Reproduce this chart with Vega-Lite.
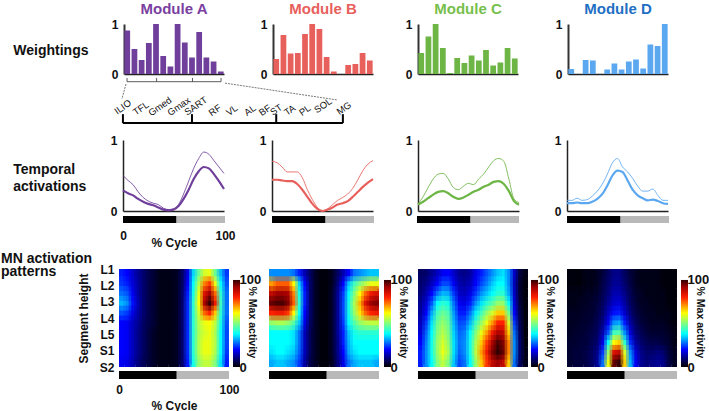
{"$schema":"https://vega.github.io/schema/vega-lite/v6.json","padding":{"left":0,"top":2,"right":0,"bottom":0},"background":"white","bounds":"flush","spacing":0,
"config":{"view":{"stroke":null},"font":"Liberation Sans","concat":{"spacing":0},"axis":{"grid":false,"ticks":false,"labelFontWeight":"bold","labelFontSize":12,"labelColor":"#111","titleFontWeight":"bold","titleColor":"#111","labelBound":false,"labelOverlap":false,"labelFlush":false}},
"datasets":{"e":[{}],"cb":[{"lo":0,"hi":100}],
"seg":[{"g":"L1"},{"g":"L2"},{"g":"L3"},{"g":"L4"},{"g":"L5"},{"g":"S1"},{"g":"S2"}],
"mus":[{"n":"ILIO","x":0.03,"y":0.36},{"n":"TFL","x":1.09,"y":0.33},{"n":"Gmed","x":2.2,"y":0.37},{"n":"Gmax","x":3.31,"y":0.37},{"n":"SART","x":4.3,"y":0.38},{"n":"RF","x":5.42,"y":0.29},{"n":"VL","x":6.41,"y":0.29},{"n":"AL","x":7.47,"y":0.29},{"n":"BF","x":8.35,"y":0.29},{"n":"ST","x":9.0,"y":0.3},{"n":"TA","x":9.8,"y":0.29},{"n":"PL","x":10.68,"y":0.29},{"n":"SOL","x":11.74,"y":0.39},{"n":"MG","x":12.97,"y":0.33}],
"br":[{"g":"main","x":0.03,"x2":12.9,"y":0.02,"y2":0.02},{"g":"main","x":0.03,"x2":0.03,"y":0.02,"y2":0.21},{"g":"main","x":4.07,"x2":4.07,"y":0.02,"y2":0.21},{"g":"main","x":9.0,"x2":9.0,"y":0.02,"y2":0.21},{"g":"main","x":12.9,"x2":12.9,"y":0.02,"y2":0.21},
{"g":"small","x":0.27,"x2":5.77,"y":0.9,"y2":0.9},{"g":"small","x":0.27,"x2":0.27,"y":0.9,"y2":0.98},{"g":"small","x":2.0,"x2":2.0,"y":0.9,"y2":0.98},{"g":"small","x":4.1,"x2":4.1,"y":0.9,"y2":0.98},{"g":"small","x":5.77,"x2":5.77,"y":0.9,"y2":0.98},
{"g":"link","x":0.21,"x2":-0.03,"y":0.85,"y2":0.53},{"g":"link","x":6.0,"x2":12.6,"y":0.87,"y2":0.51}],
"bars":[{"m":"A","i":1,"v":0.87},{"m":"A","i":2,"v":0.5},{"m":"A","i":3,"v":0.28},{"m":"A","i":4,"v":0.62},{"m":"A","i":5,"v":1},{"m":"A","i":6,"v":0.36},{"m":"A","i":7,"v":0.15},{"m":"A","i":8,"v":1},{"m":"A","i":9,"v":0.63},{"m":"A","i":10,"v":0.33},{"m":"A","i":11,"v":0.84},{"m":"A","i":12,"v":0.33},{"m":"A","i":13,"v":0.25},{"m":"A","i":14,"v":0.05},
{"m":"B","i":1,"v":0.3},{"m":"B","i":2,"v":0.78},{"m":"B","i":3,"v":0.41},{"m":"B","i":4,"v":0.42},{"m":"B","i":5,"v":0.8},{"m":"B","i":6,"v":1},{"m":"B","i":7,"v":0.9},{"m":"B","i":8,"v":0.34},{"m":"B","i":9,"v":0.05},{"m":"B","i":10,"v":0},{"m":"B","i":11,"v":0.18},{"m":"B","i":12,"v":0.2},{"m":"B","i":13,"v":0.42},{"m":"B","i":14,"v":0.27},
{"m":"C","i":1,"v":0.42},{"m":"C","i":2,"v":0.75},{"m":"C","i":3,"v":1},{"m":"C","i":4,"v":0.52},{"m":"C","i":5,"v":0.02},{"m":"C","i":6,"v":0.32},{"m":"C","i":7,"v":0.22},{"m":"C","i":8,"v":0.37},{"m":"C","i":9,"v":0.27},{"m":"C","i":10,"v":0.48},{"m":"C","i":11,"v":0.17},{"m":"C","i":12,"v":0.23},{"m":"C","i":13,"v":0.52},{"m":"C","i":14,"v":0.31},
{"m":"D","i":1,"v":0.1},{"m":"D","i":2,"v":0},{"m":"D","i":3,"v":0.28},{"m":"D","i":4,"v":0.27},{"m":"D","i":5,"v":0},{"m":"D","i":6,"v":0.09},{"m":"D","i":7,"v":0.21},{"m":"D","i":8,"v":0.09},{"m":"D","i":9,"v":0.25},{"m":"D","i":10,"v":0.29},{"m":"D","i":11,"v":0.11},{"m":"D","i":12,"v":0.59},{"m":"D","i":13,"v":0.56},{"m":"D","i":14,"v":1}],
"phase":[{"a":0,"b":52.5,"p":"stance"},{"a":52.5,"b":100,"p":"swing"}],
"act":[{"m":"A","c":0,"k":0.29,"n":0.5},{"m":"A","c":5,"k":0.25,"n":0.43},{"m":"A","c":10,"k":0.22,"n":0.37},{"m":"A","c":15,"k":0.17,"n":0.27},{"m":"A","c":20,"k":0.13,"n":0.19},{"m":"A","c":25,"k":0.1,"n":0.14},{"m":"A","c":30,"k":0.08,"n":0.11},{"m":"A","c":35,"k":0.05,"n":0.09},{"m":"A","c":40,"k":0.02,"n":0.04},{"m":"A","c":45,"k":0.01,"n":0.02},{"m":"A","c":50,"k":0.02,"n":0.03},{"m":"A","c":55,"k":0.07,"n":0.09},{"m":"A","c":60,"k":0.17,"n":0.24},{"m":"A","c":65,"k":0.3,"n":0.42},{"m":"A","c":70,"k":0.45,"n":0.6},{"m":"A","c":75,"k":0.56,"n":0.74},{"m":"A","c":80,"k":0.62,"n":0.83},{"m":"A","c":85,"k":0.6,"n":0.8},{"m":"A","c":90,"k":0.52,"n":0.71},{"m":"A","c":95,"k":0.42,"n":0.62},{"m":"A","c":100,"k":0.31,"n":0.53},
{"m":"B","c":0,"k":0.44,"n":0.7},{"m":"B","c":5,"k":0.44,"n":0.68},{"m":"B","c":10,"k":0.43,"n":0.62},{"m":"B","c":15,"k":0.42,"n":0.55},{"m":"B","c":20,"k":0.42,"n":0.55},{"m":"B","c":25,"k":0.38,"n":0.55},{"m":"B","c":30,"k":0.3,"n":0.47},{"m":"B","c":35,"k":0.2,"n":0.3},{"m":"B","c":40,"k":0.1,"n":0.16},{"m":"B","c":45,"k":0.03,"n":0.05},{"m":"B","c":50,"k":0,"n":0},{"m":"B","c":55,"k":0.02,"n":0.03},{"m":"B","c":60,"k":0.05,"n":0.09},{"m":"B","c":65,"k":0.09,"n":0.15},{"m":"B","c":70,"k":0.11,"n":0.19},{"m":"B","c":75,"k":0.14,"n":0.24},{"m":"B","c":80,"k":0.2,"n":0.32},{"m":"B","c":85,"k":0.27,"n":0.44},{"m":"B","c":90,"k":0.34,"n":0.57},{"m":"B","c":95,"k":0.4,"n":0.66},{"m":"B","c":100,"k":0.45,"n":0.71},
{"m":"C","c":0,"k":0.09,"n":0.1},{"m":"C","c":5,"k":0.13,"n":0.2},{"m":"C","c":10,"k":0.18,"n":0.33},{"m":"C","c":15,"k":0.23,"n":0.45},{"m":"C","c":20,"k":0.27,"n":0.52},{"m":"C","c":25,"k":0.28,"n":0.53},{"m":"C","c":30,"k":0.25,"n":0.45},{"m":"C","c":35,"k":0.2,"n":0.33},{"m":"C","c":40,"k":0.17,"n":0.3},{"m":"C","c":45,"k":0.19,"n":0.35},{"m":"C","c":50,"k":0.23,"n":0.39},{"m":"C","c":55,"k":0.27,"n":0.37},{"m":"C","c":60,"k":0.3,"n":0.45},{"m":"C","c":65,"k":0.34,"n":0.52},{"m":"C","c":70,"k":0.37,"n":0.62},{"m":"C","c":75,"k":0.41,"n":0.71},{"m":"C","c":80,"k":0.42,"n":0.74},{"m":"C","c":85,"k":0.38,"n":0.7},{"m":"C","c":90,"k":0.28,"n":0.45},{"m":"C","c":95,"k":0.14,"n":0.17},{"m":"C","c":100,"k":0.09,"n":0.12},
{"m":"D","c":0,"k":0.11,"n":0.15},{"m":"D","c":5,"k":0.11,"n":0.15},{"m":"D","c":10,"k":0.12,"n":0.18},{"m":"D","c":15,"k":0.11,"n":0.15},{"m":"D","c":20,"k":0.11,"n":0.16},{"m":"D","c":25,"k":0.13,"n":0.21},{"m":"D","c":30,"k":0.17,"n":0.28},{"m":"D","c":35,"k":0.24,"n":0.38},{"m":"D","c":40,"k":0.36,"n":0.52},{"m":"D","c":45,"k":0.5,"n":0.68},{"m":"D","c":50,"k":0.57,"n":0.74},{"m":"D","c":55,"k":0.55,"n":0.62},{"m":"D","c":60,"k":0.43,"n":0.55},{"m":"D","c":65,"k":0.3,"n":0.46},{"m":"D","c":70,"k":0.22,"n":0.35},{"m":"D","c":75,"k":0.18,"n":0.28},{"m":"D","c":80,"k":0.15,"n":0.28},{"m":"D","c":85,"k":0.16,"n":0.31},{"m":"D","c":90,"k":0.14,"n":0.22},{"m":"D","c":95,"k":0.11,"n":0.15},{"m":"D","c":100,"k":0.1,"n":0.15}],
"ha":[{"t":0,"s":0,"v":22},{"t":1,"s":0,"v":20},{"t":2,"s":0,"v":16},{"t":3,"s":0,"v":12},{"t":4,"s":0,"v":9},{"t":5,"s":0,"v":6},{"t":6,"s":0,"v":4},{"t":7,"s":0,"v":2},{"t":8,"s":0,"v":2},{"t":9,"s":0,"v":2},{"t":10,"s":0,"v":3},{"t":11,"s":0,"v":8},{"t":12,"s":0,"v":18},{"t":13,"s":0,"v":35},{"t":14,"s":0,"v":48},{"t":15,"s":0,"v":58},{"t":16,"s":0,"v":60},{"t":17,"s":0,"v":48},{"t":18,"s":0,"v":33},{"t":19,"s":0,"v":24},
{"t":0,"s":1,"v":24},{"t":1,"s":1,"v":22},{"t":2,"s":1,"v":17},{"t":3,"s":1,"v":13},{"t":4,"s":1,"v":9},{"t":5,"s":1,"v":6},{"t":6,"s":1,"v":4},{"t":7,"s":1,"v":2},{"t":8,"s":1,"v":2},{"t":9,"s":1,"v":2},{"t":10,"s":1,"v":3},{"t":11,"s":1,"v":8},{"t":12,"s":1,"v":20},{"t":13,"s":1,"v":38},{"t":14,"s":1,"v":55},{"t":15,"s":1,"v":72},{"t":16,"s":1,"v":78},{"t":17,"s":1,"v":60},{"t":18,"s":1,"v":38},{"t":19,"s":1,"v":26},
{"t":0,"s":2,"v":28},{"t":1,"s":2,"v":26},{"t":2,"s":2,"v":19},{"t":3,"s":2,"v":13},{"t":4,"s":2,"v":9},{"t":5,"s":2,"v":6},{"t":6,"s":2,"v":4},{"t":7,"s":2,"v":2},{"t":8,"s":2,"v":2},{"t":9,"s":2,"v":2},{"t":10,"s":2,"v":3},{"t":11,"s":2,"v":9},{"t":12,"s":2,"v":22},{"t":13,"s":2,"v":40},{"t":14,"s":2,"v":60},{"t":15,"s":2,"v":84},{"t":16,"s":2,"v":92},{"t":17,"s":2,"v":74},{"t":18,"s":2,"v":42},{"t":19,"s":2,"v":28},
{"t":0,"s":3,"v":33},{"t":1,"s":3,"v":30},{"t":2,"s":3,"v":21},{"t":3,"s":3,"v":14},{"t":4,"s":3,"v":9},{"t":5,"s":3,"v":6},{"t":6,"s":3,"v":4},{"t":7,"s":3,"v":2},{"t":8,"s":3,"v":2},{"t":9,"s":3,"v":2},{"t":10,"s":3,"v":3},{"t":11,"s":3,"v":9},{"t":12,"s":3,"v":23},{"t":13,"s":3,"v":42},{"t":14,"s":3,"v":62},{"t":15,"s":3,"v":90},{"t":16,"s":3,"v":100},{"t":17,"s":3,"v":82},{"t":18,"s":3,"v":44},{"t":19,"s":3,"v":28},
{"t":0,"s":4,"v":26},{"t":1,"s":4,"v":24},{"t":2,"s":4,"v":18},{"t":3,"s":4,"v":13},{"t":4,"s":4,"v":9},{"t":5,"s":4,"v":6},{"t":6,"s":4,"v":4},{"t":7,"s":4,"v":2},{"t":8,"s":4,"v":2},{"t":9,"s":4,"v":2},{"t":10,"s":4,"v":3},{"t":11,"s":4,"v":9},{"t":12,"s":4,"v":23},{"t":13,"s":4,"v":42},{"t":14,"s":4,"v":58},{"t":15,"s":4,"v":74},{"t":16,"s":4,"v":80},{"t":17,"s":4,"v":66},{"t":18,"s":4,"v":42},{"t":19,"s":4,"v":28},
{"t":0,"s":5,"v":20},{"t":1,"s":5,"v":19},{"t":2,"s":5,"v":15},{"t":3,"s":5,"v":12},{"t":4,"s":5,"v":8},{"t":5,"s":5,"v":6},{"t":6,"s":5,"v":4},{"t":7,"s":5,"v":2},{"t":8,"s":5,"v":2},{"t":9,"s":5,"v":2},{"t":10,"s":5,"v":3},{"t":11,"s":5,"v":9},{"t":12,"s":5,"v":23},{"t":13,"s":5,"v":42},{"t":14,"s":5,"v":55},{"t":15,"s":5,"v":60},{"t":16,"s":5,"v":62},{"t":17,"s":5,"v":56},{"t":18,"s":5,"v":40},{"t":19,"s":5,"v":26},
{"t":0,"s":6,"v":20},{"t":1,"s":6,"v":19},{"t":2,"s":6,"v":15},{"t":3,"s":6,"v":11},{"t":4,"s":6,"v":8},{"t":5,"s":6,"v":5},{"t":6,"s":6,"v":3},{"t":7,"s":6,"v":2},{"t":8,"s":6,"v":2},{"t":9,"s":6,"v":2},{"t":10,"s":6,"v":3},{"t":11,"s":6,"v":9},{"t":12,"s":6,"v":23},{"t":13,"s":6,"v":42},{"t":14,"s":6,"v":54},{"t":15,"s":6,"v":58},{"t":16,"s":6,"v":60},{"t":17,"s":6,"v":54},{"t":18,"s":6,"v":38},{"t":19,"s":6,"v":25},
{"t":0,"s":7,"v":20},{"t":1,"s":7,"v":19},{"t":2,"s":7,"v":15},{"t":3,"s":7,"v":11},{"t":4,"s":7,"v":8},{"t":5,"s":7,"v":5},{"t":6,"s":7,"v":3},{"t":7,"s":7,"v":2},{"t":8,"s":7,"v":2},{"t":9,"s":7,"v":2},{"t":10,"s":7,"v":3},{"t":11,"s":7,"v":9},{"t":12,"s":7,"v":23},{"t":13,"s":7,"v":42},{"t":14,"s":7,"v":55},{"t":15,"s":7,"v":60},{"t":16,"s":7,"v":60},{"t":17,"s":7,"v":55},{"t":18,"s":7,"v":38},{"t":19,"s":7,"v":25},
{"t":0,"s":8,"v":20},{"t":1,"s":8,"v":19},{"t":2,"s":8,"v":15},{"t":3,"s":8,"v":11},{"t":4,"s":8,"v":8},{"t":5,"s":8,"v":5},{"t":6,"s":8,"v":3},{"t":7,"s":8,"v":2},{"t":8,"s":8,"v":2},{"t":9,"s":8,"v":2},{"t":10,"s":8,"v":3},{"t":11,"s":8,"v":9},{"t":12,"s":8,"v":23},{"t":13,"s":8,"v":42},{"t":14,"s":8,"v":55},{"t":15,"s":8,"v":60},{"t":16,"s":8,"v":60},{"t":17,"s":8,"v":54},{"t":18,"s":8,"v":38},{"t":19,"s":8,"v":24},
{"t":0,"s":9,"v":19},{"t":1,"s":9,"v":18},{"t":2,"s":9,"v":14},{"t":3,"s":9,"v":10},{"t":4,"s":9,"v":7},{"t":5,"s":9,"v":5},{"t":6,"s":9,"v":3},{"t":7,"s":9,"v":2},{"t":8,"s":9,"v":2},{"t":9,"s":9,"v":2},{"t":10,"s":9,"v":3},{"t":11,"s":9,"v":9},{"t":12,"s":9,"v":22},{"t":13,"s":9,"v":40},{"t":14,"s":9,"v":52},{"t":15,"s":9,"v":56},{"t":16,"s":9,"v":56},{"t":17,"s":9,"v":50},{"t":18,"s":9,"v":36},{"t":19,"s":9,"v":22}],
"hb":[{"t":0,"s":0,"v":30},{"t":1,"s":0,"v":30},{"t":2,"s":0,"v":30},{"t":3,"s":0,"v":30},{"t":4,"s":0,"v":28},{"t":5,"s":0,"v":22},{"t":6,"s":0,"v":14},{"t":7,"s":0,"v":8},{"t":8,"s":0,"v":3},{"t":9,"s":0,"v":1},{"t":10,"s":0,"v":1},{"t":11,"s":0,"v":3},{"t":12,"s":0,"v":8},{"t":13,"s":0,"v":14},{"t":14,"s":0,"v":20},{"t":15,"s":0,"v":28},{"t":16,"s":0,"v":30},{"t":17,"s":0,"v":32},{"t":18,"s":0,"v":34},{"t":19,"s":0,"v":34},
{"t":0,"s":1,"v":70},{"t":1,"s":1,"v":75},{"t":2,"s":1,"v":75},{"t":3,"s":1,"v":75},{"t":4,"s":1,"v":62},{"t":5,"s":1,"v":35},{"t":6,"s":1,"v":20},{"t":7,"s":1,"v":9},{"t":8,"s":1,"v":3},{"t":9,"s":1,"v":1},{"t":10,"s":1,"v":1},{"t":11,"s":1,"v":3},{"t":12,"s":1,"v":10},{"t":13,"s":1,"v":20},{"t":14,"s":1,"v":34},{"t":15,"s":1,"v":44},{"t":16,"s":1,"v":50},{"t":17,"s":1,"v":55},{"t":18,"s":1,"v":60},{"t":19,"s":1,"v":60},
{"t":0,"s":2,"v":88},{"t":1,"s":2,"v":92},{"t":2,"s":2,"v":92},{"t":3,"s":2,"v":90},{"t":4,"s":2,"v":72},{"t":5,"s":2,"v":40},{"t":6,"s":2,"v":22},{"t":7,"s":2,"v":9},{"t":8,"s":2,"v":3},{"t":9,"s":2,"v":1},{"t":10,"s":2,"v":1},{"t":11,"s":2,"v":4},{"t":12,"s":2,"v":12},{"t":13,"s":2,"v":24},{"t":14,"s":2,"v":38},{"t":15,"s":2,"v":50},{"t":16,"s":2,"v":62},{"t":17,"s":2,"v":74},{"t":18,"s":2,"v":82},{"t":19,"s":2,"v":85},
{"t":0,"s":3,"v":96},{"t":1,"s":3,"v":98},{"t":2,"s":3,"v":98},{"t":3,"s":3,"v":94},{"t":4,"s":3,"v":75},{"t":5,"s":3,"v":42},{"t":6,"s":3,"v":22},{"t":7,"s":3,"v":9},{"t":8,"s":3,"v":3},{"t":9,"s":3,"v":1},{"t":10,"s":3,"v":1},{"t":11,"s":3,"v":4},{"t":12,"s":3,"v":12},{"t":13,"s":3,"v":25},{"t":14,"s":3,"v":40},{"t":15,"s":3,"v":54},{"t":16,"s":3,"v":68},{"t":17,"s":3,"v":84},{"t":18,"s":3,"v":92},{"t":19,"s":3,"v":94},
{"t":0,"s":4,"v":80},{"t":1,"s":4,"v":82},{"t":2,"s":4,"v":82},{"t":3,"s":4,"v":78},{"t":4,"s":4,"v":62},{"t":5,"s":4,"v":38},{"t":6,"s":4,"v":20},{"t":7,"s":4,"v":9},{"t":8,"s":4,"v":3},{"t":9,"s":4,"v":1},{"t":10,"s":4,"v":1},{"t":11,"s":4,"v":4},{"t":12,"s":4,"v":12},{"t":13,"s":4,"v":25},{"t":14,"s":4,"v":40},{"t":15,"s":4,"v":52},{"t":16,"s":4,"v":64},{"t":17,"s":4,"v":74},{"t":18,"s":4,"v":80},{"t":19,"s":4,"v":82},
{"t":0,"s":5,"v":52},{"t":1,"s":5,"v":54},{"t":2,"s":5,"v":54},{"t":3,"s":5,"v":52},{"t":4,"s":5,"v":46},{"t":5,"s":5,"v":34},{"t":6,"s":5,"v":18},{"t":7,"s":5,"v":8},{"t":8,"s":5,"v":3},{"t":9,"s":5,"v":1},{"t":10,"s":5,"v":1},{"t":11,"s":5,"v":4},{"t":12,"s":5,"v":12},{"t":13,"s":5,"v":24},{"t":14,"s":5,"v":38},{"t":15,"s":5,"v":46},{"t":16,"s":5,"v":52},{"t":17,"s":5,"v":55},{"t":18,"s":5,"v":56},{"t":19,"s":5,"v":56},
{"t":0,"s":6,"v":38},{"t":1,"s":6,"v":38},{"t":2,"s":6,"v":38},{"t":3,"s":6,"v":38},{"t":4,"s":6,"v":36},{"t":5,"s":6,"v":28},{"t":6,"s":6,"v":15},{"t":7,"s":6,"v":7},{"t":8,"s":6,"v":3},{"t":9,"s":6,"v":1},{"t":10,"s":6,"v":1},{"t":11,"s":6,"v":4},{"t":12,"s":6,"v":12},{"t":13,"s":6,"v":22},{"t":14,"s":6,"v":34},{"t":15,"s":6,"v":40},{"t":16,"s":6,"v":42},{"t":17,"s":6,"v":42},{"t":18,"s":6,"v":42},{"t":19,"s":6,"v":42},
{"t":0,"s":7,"v":38},{"t":1,"s":7,"v":38},{"t":2,"s":7,"v":38},{"t":3,"s":7,"v":38},{"t":4,"s":7,"v":36},{"t":5,"s":7,"v":28},{"t":6,"s":7,"v":15},{"t":7,"s":7,"v":7},{"t":8,"s":7,"v":3},{"t":9,"s":7,"v":1},{"t":10,"s":7,"v":1},{"t":11,"s":7,"v":4},{"t":12,"s":7,"v":11},{"t":13,"s":7,"v":22},{"t":14,"s":7,"v":33},{"t":15,"s":7,"v":38},{"t":16,"s":7,"v":38},{"t":17,"s":7,"v":38},{"t":18,"s":7,"v":38},{"t":19,"s":7,"v":38},
{"t":0,"s":8,"v":36},{"t":1,"s":8,"v":38},{"t":2,"s":8,"v":38},{"t":3,"s":8,"v":36},{"t":4,"s":8,"v":34},{"t":5,"s":8,"v":27},{"t":6,"s":8,"v":15},{"t":7,"s":8,"v":7},{"t":8,"s":8,"v":3},{"t":9,"s":8,"v":1},{"t":10,"s":8,"v":1},{"t":11,"s":8,"v":4},{"t":12,"s":8,"v":11},{"t":13,"s":8,"v":20},{"t":14,"s":8,"v":32},{"t":15,"s":8,"v":36},{"t":16,"s":8,"v":38},{"t":17,"s":8,"v":38},{"t":18,"s":8,"v":38},{"t":19,"s":8,"v":38},
{"t":0,"s":9,"v":32},{"t":1,"s":9,"v":34},{"t":2,"s":9,"v":34},{"t":3,"s":9,"v":32},{"t":4,"s":9,"v":30},{"t":5,"s":9,"v":24},{"t":6,"s":9,"v":13},{"t":7,"s":9,"v":6},{"t":8,"s":9,"v":3},{"t":9,"s":9,"v":1},{"t":10,"s":9,"v":1},{"t":11,"s":9,"v":3},{"t":12,"s":9,"v":10},{"t":13,"s":9,"v":18},{"t":14,"s":9,"v":28},{"t":15,"s":9,"v":32},{"t":16,"s":9,"v":34},{"t":17,"s":9,"v":34},{"t":18,"s":9,"v":34},{"t":19,"s":9,"v":32}],
"hc":[{"t":0,"s":0,"v":8},{"t":1,"s":0,"v":9},{"t":2,"s":0,"v":12},{"t":3,"s":0,"v":15},{"t":4,"s":0,"v":19},{"t":5,"s":0,"v":20},{"t":6,"s":0,"v":16},{"t":7,"s":0,"v":12},{"t":8,"s":0,"v":11},{"t":9,"s":0,"v":13},{"t":10,"s":0,"v":18},{"t":11,"s":0,"v":22},{"t":12,"s":0,"v":26},{"t":13,"s":0,"v":30},{"t":14,"s":0,"v":34},{"t":15,"s":0,"v":36},{"t":16,"s":0,"v":30},{"t":17,"s":0,"v":16},{"t":18,"s":0,"v":5},{"t":19,"s":0,"v":2},
{"t":0,"s":1,"v":9},{"t":1,"s":1,"v":11},{"t":2,"s":1,"v":15},{"t":3,"s":1,"v":20},{"t":4,"s":1,"v":25},{"t":5,"s":1,"v":25},{"t":6,"s":1,"v":19},{"t":7,"s":1,"v":14},{"t":8,"s":1,"v":13},{"t":9,"s":1,"v":15},{"t":10,"s":1,"v":20},{"t":11,"s":1,"v":25},{"t":12,"s":1,"v":29},{"t":13,"s":1,"v":34},{"t":14,"s":1,"v":38},{"t":15,"s":1,"v":38},{"t":16,"s":1,"v":30},{"t":17,"s":1,"v":15},{"t":18,"s":1,"v":4},{"t":19,"s":1,"v":1},
{"t":0,"s":2,"v":10},{"t":1,"s":2,"v":14},{"t":2,"s":2,"v":20},{"t":3,"s":2,"v":28},{"t":4,"s":2,"v":33},{"t":5,"s":2,"v":32},{"t":6,"s":2,"v":24},{"t":7,"s":2,"v":16},{"t":8,"s":2,"v":15},{"t":9,"s":2,"v":18},{"t":10,"s":2,"v":24},{"t":11,"s":2,"v":30},{"t":12,"s":2,"v":34},{"t":13,"s":2,"v":38},{"t":14,"s":2,"v":42},{"t":15,"s":2,"v":42},{"t":16,"s":2,"v":32},{"t":17,"s":2,"v":16},{"t":18,"s":2,"v":4},{"t":19,"s":2,"v":1},
{"t":0,"s":3,"v":12},{"t":1,"s":3,"v":17},{"t":2,"s":3,"v":26},{"t":3,"s":3,"v":38},{"t":4,"s":3,"v":42},{"t":5,"s":3,"v":40},{"t":6,"s":3,"v":28},{"t":7,"s":3,"v":19},{"t":8,"s":3,"v":18},{"t":9,"s":3,"v":22},{"t":10,"s":3,"v":30},{"t":11,"s":3,"v":36},{"t":12,"s":3,"v":42},{"t":13,"s":3,"v":46},{"t":14,"s":3,"v":52},{"t":15,"s":3,"v":52},{"t":16,"s":3,"v":38},{"t":17,"s":3,"v":17},{"t":18,"s":3,"v":5},{"t":19,"s":3,"v":1},
{"t":0,"s":4,"v":13},{"t":1,"s":4,"v":20},{"t":2,"s":4,"v":32},{"t":3,"s":4,"v":44},{"t":4,"s":4,"v":48},{"t":5,"s":4,"v":45},{"t":6,"s":4,"v":31},{"t":7,"s":4,"v":22},{"t":8,"s":4,"v":22},{"t":9,"s":4,"v":28},{"t":10,"s":4,"v":37},{"t":11,"s":4,"v":44},{"t":12,"s":4,"v":52},{"t":13,"s":4,"v":58},{"t":14,"s":4,"v":66},{"t":15,"s":4,"v":66},{"t":16,"s":4,"v":48},{"t":17,"s":4,"v":20},{"t":18,"s":4,"v":6},{"t":19,"s":4,"v":1},
{"t":0,"s":5,"v":15},{"t":1,"s":5,"v":24},{"t":2,"s":5,"v":36},{"t":3,"s":5,"v":48},{"t":4,"s":5,"v":52},{"t":5,"s":5,"v":48},{"t":6,"s":5,"v":33},{"t":7,"s":5,"v":25},{"t":8,"s":5,"v":26},{"t":9,"s":5,"v":33},{"t":10,"s":5,"v":44},{"t":11,"s":5,"v":52},{"t":12,"s":5,"v":60},{"t":13,"s":5,"v":70},{"t":14,"s":5,"v":80},{"t":15,"s":5,"v":80},{"t":16,"s":5,"v":58},{"t":17,"s":5,"v":24},{"t":18,"s":5,"v":7},{"t":19,"s":5,"v":1},
{"t":0,"s":6,"v":17},{"t":1,"s":6,"v":27},{"t":2,"s":6,"v":38},{"t":3,"s":6,"v":50},{"t":4,"s":6,"v":55},{"t":5,"s":6,"v":50},{"t":6,"s":6,"v":35},{"t":7,"s":6,"v":27},{"t":8,"s":6,"v":29},{"t":9,"s":6,"v":38},{"t":10,"s":6,"v":50},{"t":11,"s":6,"v":60},{"t":12,"s":6,"v":70},{"t":13,"s":6,"v":82},{"t":14,"s":6,"v":90},{"t":15,"s":6,"v":88},{"t":16,"s":6,"v":66},{"t":17,"s":6,"v":28},{"t":18,"s":6,"v":8},{"t":19,"s":6,"v":1},
{"t":0,"s":7,"v":20},{"t":1,"s":7,"v":29},{"t":2,"s":7,"v":40},{"t":3,"s":7,"v":52},{"t":4,"s":7,"v":58},{"t":5,"s":7,"v":52},{"t":6,"s":7,"v":36},{"t":7,"s":7,"v":28},{"t":8,"s":7,"v":30},{"t":9,"s":7,"v":40},{"t":10,"s":7,"v":54},{"t":11,"s":7,"v":66},{"t":12,"s":7,"v":78},{"t":13,"s":7,"v":90},{"t":14,"s":7,"v":98},{"t":15,"s":7,"v":94},{"t":16,"s":7,"v":72},{"t":17,"s":7,"v":30},{"t":18,"s":7,"v":9},{"t":19,"s":7,"v":1},
{"t":0,"s":8,"v":22},{"t":1,"s":8,"v":30},{"t":2,"s":8,"v":40},{"t":3,"s":8,"v":52},{"t":4,"s":8,"v":60},{"t":5,"s":8,"v":54},{"t":6,"s":8,"v":36},{"t":7,"s":8,"v":27},{"t":8,"s":8,"v":30},{"t":9,"s":8,"v":40},{"t":10,"s":8,"v":56},{"t":11,"s":8,"v":70},{"t":12,"s":8,"v":82},{"t":13,"s":8,"v":94},{"t":14,"s":8,"v":100},{"t":15,"s":8,"v":96},{"t":16,"s":8,"v":72},{"t":17,"s":8,"v":30},{"t":18,"s":8,"v":9},{"t":19,"s":8,"v":2},
{"t":0,"s":9,"v":22},{"t":1,"s":9,"v":30},{"t":2,"s":9,"v":38},{"t":3,"s":9,"v":50},{"t":4,"s":9,"v":56},{"t":5,"s":9,"v":50},{"t":6,"s":9,"v":34},{"t":7,"s":9,"v":25},{"t":8,"s":9,"v":28},{"t":9,"s":9,"v":38},{"t":10,"s":9,"v":52},{"t":11,"s":9,"v":66},{"t":12,"s":9,"v":78},{"t":13,"s":9,"v":88},{"t":14,"s":9,"v":92},{"t":15,"s":9,"v":88},{"t":16,"s":9,"v":66},{"t":17,"s":9,"v":28},{"t":18,"s":9,"v":8},{"t":19,"s":9,"v":2}],
"hd":[{"t":0,"s":0,"v":1},{"t":1,"s":0,"v":1},{"t":2,"s":0,"v":1},{"t":3,"s":0,"v":2},{"t":4,"s":0,"v":2},{"t":5,"s":0,"v":3},{"t":6,"s":0,"v":5},{"t":7,"s":0,"v":8},{"t":8,"s":0,"v":11},{"t":9,"s":0,"v":11},{"t":10,"s":0,"v":8},{"t":11,"s":0,"v":5},{"t":12,"s":0,"v":3},{"t":13,"s":0,"v":2},{"t":14,"s":0,"v":2},{"t":15,"s":0,"v":2},{"t":16,"s":0,"v":2},{"t":17,"s":0,"v":1},{"t":18,"s":0,"v":1},{"t":19,"s":0,"v":1},
{"t":0,"s":1,"v":1},{"t":1,"s":1,"v":1},{"t":2,"s":1,"v":1},{"t":3,"s":1,"v":2},{"t":4,"s":1,"v":2},{"t":5,"s":1,"v":3},{"t":6,"s":1,"v":6},{"t":7,"s":1,"v":9},{"t":8,"s":1,"v":12},{"t":9,"s":1,"v":12},{"t":10,"s":1,"v":9},{"t":11,"s":1,"v":6},{"t":12,"s":1,"v":3},{"t":13,"s":1,"v":2},{"t":14,"s":1,"v":2},{"t":15,"s":1,"v":2},{"t":16,"s":1,"v":2},{"t":17,"s":1,"v":1},{"t":18,"s":1,"v":1},{"t":19,"s":1,"v":1},
{"t":0,"s":2,"v":2},{"t":1,"s":2,"v":2},{"t":2,"s":2,"v":2},{"t":3,"s":2,"v":3},{"t":4,"s":2,"v":3},{"t":5,"s":2,"v":4},{"t":6,"s":2,"v":7},{"t":7,"s":2,"v":10},{"t":8,"s":2,"v":14},{"t":9,"s":2,"v":14},{"t":10,"s":2,"v":11},{"t":11,"s":2,"v":7},{"t":12,"s":2,"v":4},{"t":13,"s":2,"v":3},{"t":14,"s":2,"v":2},{"t":15,"s":2,"v":2},{"t":16,"s":2,"v":2},{"t":17,"s":2,"v":2},{"t":18,"s":2,"v":1},{"t":19,"s":2,"v":1},
{"t":0,"s":3,"v":2},{"t":1,"s":3,"v":2},{"t":2,"s":3,"v":3},{"t":3,"s":3,"v":3},{"t":4,"s":3,"v":4},{"t":5,"s":3,"v":5},{"t":6,"s":3,"v":8},{"t":7,"s":3,"v":12},{"t":8,"s":3,"v":16},{"t":9,"s":3,"v":17},{"t":10,"s":3,"v":13},{"t":11,"s":3,"v":8},{"t":12,"s":3,"v":5},{"t":13,"s":3,"v":3},{"t":14,"s":3,"v":3},{"t":15,"s":3,"v":2},{"t":16,"s":3,"v":2},{"t":17,"s":3,"v":2},{"t":18,"s":3,"v":1},{"t":19,"s":3,"v":1},
{"t":0,"s":4,"v":3},{"t":1,"s":4,"v":3},{"t":2,"s":4,"v":3},{"t":3,"s":4,"v":4},{"t":4,"s":4,"v":4},{"t":5,"s":4,"v":6},{"t":6,"s":4,"v":9},{"t":7,"s":4,"v":15},{"t":8,"s":4,"v":21},{"t":9,"s":4,"v":22},{"t":10,"s":4,"v":16},{"t":11,"s":4,"v":10},{"t":12,"s":4,"v":6},{"t":13,"s":4,"v":4},{"t":14,"s":4,"v":3},{"t":15,"s":4,"v":3},{"t":16,"s":4,"v":2},{"t":17,"s":4,"v":2},{"t":18,"s":4,"v":2},{"t":19,"s":4,"v":1},
{"t":0,"s":5,"v":3},{"t":1,"s":5,"v":3},{"t":2,"s":5,"v":4},{"t":3,"s":5,"v":4},{"t":4,"s":5,"v":5},{"t":5,"s":5,"v":7},{"t":6,"s":5,"v":11},{"t":7,"s":5,"v":19},{"t":8,"s":5,"v":30},{"t":9,"s":5,"v":32},{"t":10,"s":5,"v":22},{"t":11,"s":5,"v":13},{"t":12,"s":5,"v":8},{"t":13,"s":5,"v":5},{"t":14,"s":5,"v":4},{"t":15,"s":5,"v":3},{"t":16,"s":5,"v":3},{"t":17,"s":5,"v":3},{"t":18,"s":5,"v":2},{"t":19,"s":5,"v":1},
{"t":0,"s":6,"v":3},{"t":1,"s":6,"v":4},{"t":2,"s":6,"v":4},{"t":3,"s":6,"v":5},{"t":4,"s":6,"v":6},{"t":5,"s":6,"v":8},{"t":6,"s":6,"v":14},{"t":7,"s":6,"v":26},{"t":8,"s":6,"v":44},{"t":9,"s":6,"v":46},{"t":10,"s":6,"v":30},{"t":11,"s":6,"v":17},{"t":12,"s":6,"v":10},{"t":13,"s":6,"v":7},{"t":14,"s":6,"v":5},{"t":15,"s":6,"v":4},{"t":16,"s":6,"v":4},{"t":17,"s":6,"v":4},{"t":18,"s":6,"v":3},{"t":19,"s":6,"v":2},
{"t":0,"s":7,"v":4},{"t":1,"s":7,"v":4},{"t":2,"s":7,"v":5},{"t":3,"s":7,"v":5},{"t":4,"s":7,"v":7},{"t":5,"s":7,"v":9},{"t":6,"s":7,"v":18},{"t":7,"s":7,"v":38},{"t":8,"s":7,"v":62},{"t":9,"s":7,"v":66},{"t":10,"s":7,"v":42},{"t":11,"s":7,"v":23},{"t":12,"s":7,"v":13},{"t":13,"s":7,"v":9},{"t":14,"s":7,"v":7},{"t":15,"s":7,"v":6},{"t":16,"s":7,"v":6},{"t":17,"s":7,"v":5},{"t":18,"s":7,"v":4},{"t":19,"s":7,"v":2},
{"t":0,"s":8,"v":4},{"t":1,"s":8,"v":5},{"t":2,"s":8,"v":5},{"t":3,"s":8,"v":6},{"t":4,"s":8,"v":8},{"t":5,"s":8,"v":11},{"t":6,"s":8,"v":24},{"t":7,"s":8,"v":52},{"t":8,"s":8,"v":84},{"t":9,"s":8,"v":88},{"t":10,"s":8,"v":58},{"t":11,"s":8,"v":30},{"t":12,"s":8,"v":17},{"t":13,"s":8,"v":11},{"t":14,"s":8,"v":9},{"t":15,"s":8,"v":9},{"t":16,"s":8,"v":10},{"t":17,"s":8,"v":9},{"t":18,"s":8,"v":5},{"t":19,"s":8,"v":3},
{"t":0,"s":9,"v":4},{"t":1,"s":9,"v":5},{"t":2,"s":9,"v":5},{"t":3,"s":9,"v":6},{"t":4,"s":9,"v":8},{"t":5,"s":9,"v":12},{"t":6,"s":9,"v":28},{"t":7,"s":9,"v":60},{"t":8,"s":9,"v":96},{"t":9,"s":9,"v":100},{"t":10,"s":9,"v":66},{"t":11,"s":9,"v":33},{"t":12,"s":9,"v":19},{"t":13,"s":9,"v":12},{"t":14,"s":9,"v":10},{"t":15,"s":9,"v":11},{"t":16,"s":9,"v":12},{"t":17,"s":9,"v":11},{"t":18,"s":9,"v":6},{"t":19,"s":9,"v":3}]},
"vconcat":[
{"bounds":"flush","spacing":0,"hconcat":[
{"data":{"values":[{"t":"Weightings","x":0.1,"y":0.46}]},"width":123,"height":50,"mark":{"type":"text","align":"left","fontWeight":"bold","fontSize":14,"color":"#111"},"encoding":{"text":{"field":"t"},"x":{"field":"x","type":"quantitative","axis":null,"scale":{"domain":[0,1]}},"y":{"field":"y","type":"quantitative","axis":null,"scale":{"domain":[0,1]}}}},
{"title":{"text":"Module A","color":"#7a3fa0","fontSize":15,"fontWeight":"bold","offset":1},"data":{"name":"bars"},"transform":[{"filter":"datum.m=='A'"}],"width":100,"height":50,"mark":{"type":"bar","color":"#6f3f9b"},"encoding":{"x":{"field":"i","type":"ordinal","scale":{"paddingInner":0.2,"paddingOuter":0.05},"axis":{"title":null,"labels":false,"domainWidth":1.5,"domainColor":"#222"}},"y":{"field":"v","type":"quantitative","scale":{"domain":[0,1]},"axis":{"title":null,"values":[0,1],"format":"d","labelPadding":6,"domainWidth":2,"domainColor":"#333"}}}},
{"data":{"name":"e"},"width":49,"height":1,"mark":{"type":"rule","opacity":0},"encoding":{}},
{"title":{"text":"Module B","color":"#e8605c","fontSize":15,"fontWeight":"bold","offset":1},"data":{"name":"bars"},"transform":[{"filter":"datum.m=='B'"}],"width":100,"height":50,"mark":{"type":"bar","color":"#e8605c"},"encoding":{"x":{"field":"i","type":"ordinal","scale":{"paddingInner":0.2,"paddingOuter":0.05},"axis":{"title":null,"labels":false,"domainWidth":1.5,"domainColor":"#222"}},"y":{"field":"v","type":"quantitative","scale":{"domain":[0,1]},"axis":{"title":null,"values":[0,1],"format":"d","labelPadding":6,"domainWidth":2,"domainColor":"#333"}}}},
{"data":{"name":"e"},"width":45,"height":1,"mark":{"type":"rule","opacity":0},"encoding":{}},
{"title":{"text":"Module C","color":"#77bf4c","fontSize":15,"fontWeight":"bold","offset":1},"data":{"name":"bars"},"transform":[{"filter":"datum.m=='C'"}],"width":100,"height":50,"mark":{"type":"bar","color":"#6db545"},"encoding":{"x":{"field":"i","type":"ordinal","scale":{"paddingInner":0.2,"paddingOuter":0.05},"axis":{"title":null,"labels":false,"domainWidth":1.5,"domainColor":"#222"}},"y":{"field":"v","type":"quantitative","scale":{"domain":[0,1]},"axis":{"title":null,"values":[0,1],"format":"d","labelPadding":6,"domainWidth":2,"domainColor":"#333"}}}},
{"data":{"name":"e"},"width":50,"height":1,"mark":{"type":"rule","opacity":0},"encoding":{}},
{"title":{"text":"Module D","color":"#1f6fc4","fontSize":15,"fontWeight":"bold","offset":1},"data":{"name":"bars"},"transform":[{"filter":"datum.m=='D'"}],"width":100,"height":50,"mark":{"type":"bar","color":"#5ba8f0"},"encoding":{"x":{"field":"i","type":"ordinal","scale":{"paddingInner":0.2,"paddingOuter":0.05},"axis":{"title":null,"labels":false,"domainWidth":1.5,"domainColor":"#222"}},"y":{"field":"v","type":"quantitative","scale":{"domain":[0,1]},"axis":{"title":null,"values":[0,1],"format":"d","labelPadding":6,"domainWidth":2,"domainColor":"#333"}}}}
]},
{"data":{"name":"e"},"width":1,"height":53,"mark":{"type":"rule","opacity":0},"encoding":{}},
{"bounds":"flush","spacing":0,"hconcat":[
{"data":{"name":"e"},"width":118,"height":1,"mark":{"type":"rule","opacity":0},"encoding":{}},
{"width":229,"height":47,"encoding":{"x":{"field":"x","type":"quantitative","axis":null,"scale":{"domain":[-0.2,13.2]}},"y":{"field":"y","type":"quantitative","axis":null,"scale":{"domain":[0,1]}}},"layer":[
{"data":{"name":"br"},"transform":[{"filter":"datum.g=='link'"}],"mark":{"type":"rule","color":"#555","strokeWidth":0.8,"strokeDash":[2,1]},"encoding":{"x2":{"field":"x2"},"y2":{"field":"y2"}}},
{"data":{"name":"br"},"transform":[{"filter":"datum.g=='small'"}],"mark":{"type":"rule","color":"#333","strokeWidth":0.8},"encoding":{"x2":{"field":"x2"},"y2":{"field":"y2"}}},
{"data":{"name":"br"},"transform":[{"filter":"datum.g=='main'"}],"mark":{"type":"rule","color":"#000","strokeWidth":2},"encoding":{"x2":{"field":"x2"},"y2":{"field":"y2"}}},
{"data":{"name":"mus"},"mark":{"type":"text","angle":325,"fontSize":9.5,"color":"#111"},"encoding":{"text":{"field":"n"}}}
]}
]},
{"data":{"name":"e"},"width":1,"height":63,"mark":{"type":"rule","opacity":0},"encoding":{}},
{"bounds":"flush","spacing":0,"hconcat":[
{"data":{"values":[{"t":"Temporal","x":0.1,"y":0.58},{"t":"activations","x":0.1,"y":0.34}]},"width":122,"height":71,"mark":{"type":"text","align":"left","fontWeight":"bold","fontSize":14,"color":"#111"},"encoding":{"text":{"field":"t"},"x":{"field":"x","type":"quantitative","axis":null,"scale":{"domain":[0,1]}},"y":{"field":"y","type":"quantitative","axis":null,"scale":{"domain":[0,1]}}}},
{"data":{"name":"act"},"transform":[{"filter":"datum.m=='A'"}],"width":101,"height":71,"encoding":{"x":{"field":"c","type":"quantitative","scale":{"domain":[0,100]},"axis":{"title":null,"labels":false,"domainWidth":1.5,"domainColor":"#222"}}},"layer":[{"mark":{"type":"line","color":"#6f3f9b","strokeWidth":1,"opacity":0.85,"interpolate":"monotone"},"encoding":{"y":{"field":"n","type":"quantitative","scale":{"domain":[0,1]},"axis":{"title":null,"values":[0,1],"format":"d","labelPadding":6,"domainWidth":1.5,"domainColor":"#222"}}}},{"mark":{"type":"line","color":"#6f3f9b","strokeWidth":2.2,"interpolate":"monotone"},"encoding":{"y":{"field":"k","type":"quantitative"}}}]},
{"data":{"name":"e"},"width":48,"height":1,"mark":{"type":"rule","opacity":0},"encoding":{}},
{"data":{"name":"act"},"transform":[{"filter":"datum.m=='B'"}],"width":101,"height":71,"encoding":{"x":{"field":"c","type":"quantitative","scale":{"domain":[0,100]},"axis":{"title":null,"labels":false,"domainWidth":1.5,"domainColor":"#222"}}},"layer":[{"mark":{"type":"line","color":"#e8605c","strokeWidth":1,"opacity":0.85,"interpolate":"monotone"},"encoding":{"y":{"field":"n","type":"quantitative","scale":{"domain":[0,1]},"axis":{"title":null,"values":[0,1],"format":"d","labelPadding":6,"domainWidth":1.5,"domainColor":"#222"}}}},{"mark":{"type":"line","color":"#e8605c","strokeWidth":2.2,"interpolate":"monotone"},"encoding":{"y":{"field":"k","type":"quantitative"}}}]},
{"data":{"name":"e"},"width":45,"height":1,"mark":{"type":"rule","opacity":0},"encoding":{}},
{"data":{"name":"act"},"transform":[{"filter":"datum.m=='C'"}],"width":101,"height":71,"encoding":{"x":{"field":"c","type":"quantitative","scale":{"domain":[0,100]},"axis":{"title":null,"labels":false,"domainWidth":1.5,"domainColor":"#222"}}},"layer":[{"mark":{"type":"line","color":"#6db545","strokeWidth":1,"opacity":0.85,"interpolate":"monotone"},"encoding":{"y":{"field":"n","type":"quantitative","scale":{"domain":[0,1]},"axis":{"title":null,"values":[0,1],"format":"d","labelPadding":6,"domainWidth":1.5,"domainColor":"#222"}}}},{"mark":{"type":"line","color":"#6db545","strokeWidth":2.2,"interpolate":"monotone"},"encoding":{"y":{"field":"k","type":"quantitative"}}}]},
{"data":{"name":"e"},"width":48,"height":1,"mark":{"type":"rule","opacity":0},"encoding":{}},
{"data":{"name":"act"},"transform":[{"filter":"datum.m=='D'"}],"width":101,"height":71,"encoding":{"x":{"field":"c","type":"quantitative","scale":{"domain":[0,100]},"axis":{"title":null,"labels":false,"domainWidth":1.5,"domainColor":"#222"}}},"layer":[{"mark":{"type":"line","color":"#5ba8f0","strokeWidth":1,"opacity":0.85,"interpolate":"monotone"},"encoding":{"y":{"field":"n","type":"quantitative","scale":{"domain":[0,1]},"axis":{"title":null,"values":[0,1],"format":"d","labelPadding":6,"domainWidth":1.5,"domainColor":"#222"}}}},{"mark":{"type":"line","color":"#5ba8f0","strokeWidth":2.2,"interpolate":"monotone"},"encoding":{"y":{"field":"k","type":"quantitative"}}}]}
]},
{"data":{"name":"e"},"width":1,"height":76,"mark":{"type":"rule","opacity":0},"encoding":{}},
{"bounds":"flush","spacing":0,"hconcat":[
{"data":{"name":"e"},"width":122,"height":1,"mark":{"type":"rule","opacity":0},"encoding":{}},
{"data":{"name":"phase"},"width":102,"height":7,"mark":"rect","encoding":{"x":{"field":"a","type":"quantitative","scale":{"domain":[0,100]},"axis":{"title":"% Cycle","titleFontSize":12,"titlePadding":-4,"values":[0,100],"format":"d","labelPadding":7,"domain":false}},"x2":{"field":"b"},"color":{"field":"p","type":"nominal","scale":{"domain":["stance","swing"],"range":["#000000","#b9b9b9"]},"legend":null}}},
{"data":{"name":"e"},"width":47,"height":1,"mark":{"type":"rule","opacity":0},"encoding":{}},
{"data":{"name":"phase"},"width":102,"height":7,"mark":"rect","encoding":{"x":{"field":"a","type":"quantitative","scale":{"domain":[0,100]},"axis":null},"x2":{"field":"b"},"color":{"field":"p","type":"nominal","scale":{"domain":["stance","swing"],"range":["#000000","#b9b9b9"]},"legend":null}}},
{"data":{"name":"e"},"width":43,"height":1,"mark":{"type":"rule","opacity":0},"encoding":{}},
{"data":{"name":"phase"},"width":102,"height":7,"mark":"rect","encoding":{"x":{"field":"a","type":"quantitative","scale":{"domain":[0,100]},"axis":null},"x2":{"field":"b"},"color":{"field":"p","type":"nominal","scale":{"domain":["stance","swing"],"range":["#000000","#b9b9b9"]},"legend":null}}},
{"data":{"name":"e"},"width":48,"height":1,"mark":{"type":"rule","opacity":0},"encoding":{}},
{"data":{"name":"phase"},"width":102,"height":7,"mark":"rect","encoding":{"x":{"field":"a","type":"quantitative","scale":{"domain":[0,100]},"axis":null},"x2":{"field":"b"},"color":{"field":"p","type":"nominal","scale":{"domain":["stance","swing"],"range":["#000000","#b9b9b9"]},"legend":null}}}
]},
{"data":{"name":"e"},"width":1,"height":53,"mark":{"type":"rule","opacity":0},"encoding":{}},
{"bounds":"flush","spacing":0,"hconcat":[
{"data":{"values":[{"t":"MN activation","x":0,"y":1.1},{"t":"patterns","x":0,"y":0.965}]},"width":118,"height":98,"mark":{"type":"text","align":"left","fontWeight":"bold","fontSize":14,"color":"#111"},"encoding":{"text":{"field":"t"},"x":{"field":"x","type":"quantitative","axis":null,"scale":{"domain":[0,1]}},"y":{"field":"y","type":"quantitative","axis":null,"scale":{"domain":[0,1]}}}},
{"width":110,"height":98,"layer":[
{"data":{"name":"ha"},"encoding":{"x":{"field":"t","type":"ordinal","axis":null},"y":{"field":"s","type":"ordinal","axis":null},"color":{"field":"v","type":"quantitative","legend":null,"scale":{"interpolate":"rgb","domain":[0,8,20,38,50,62,80,92,100],"range":["#000000","#000060","#0000ff","#00ffff","#80ff80","#ffff00","#ff2000","#a00000","#300000"]}}},"layer":[{"mark":"rect"},{"mark":{"type":"rect","clip":true,"xOffset":-1.4,"yOffset":-2.5}},{"mark":{"type":"rect","clip":true,"xOffset":1.4,"yOffset":-2.5,"opacity":0.5}},{"mark":{"type":"rect","clip":true,"xOffset":-1.4,"yOffset":2.5,"opacity":0.33}},{"mark":{"type":"rect","clip":true,"xOffset":1.4,"yOffset":2.5,"opacity":0.25}}]},
{"data":{"name":"seg"},"mark":{"type":"rule","opacity":0},"encoding":{"y":{"field":"g","type":"ordinal","sort":null,"scale":{"type":"point","padding":0},"axis":{"title":"Segment height","titleFontSize":12,"labelPadding":5,"domain":false,"titleX":-29}}}}
],"resolve":{"scale":{"y":"independent"}}},
{"data":{"name":"e"},"width":4,"height":1,"mark":{"type":"rule","opacity":0},"encoding":{}},
{"data":{"name":"cb"},"width":7,"height":98,"mark":{"type":"rect","fill":{"gradient":"linear","x1":0,"y1":1,"x2":0,"y2":0,"stops":[{"offset":0,"color":"#000000"},{"offset":0.08,"color":"#000060"},{"offset":0.2,"color":"#0000ff"},{"offset":0.38,"color":"#00ffff"},{"offset":0.5,"color":"#80ff80"},{"offset":0.62,"color":"#ffff00"},{"offset":0.8,"color":"#ff2000"},{"offset":0.92,"color":"#a00000"},{"offset":1,"color":"#300000"}]}},"encoding":{"y":{"field":"lo","type":"quantitative","scale":{"domain":[0,112.6]},"axis":{"orient":"right","title":"% Max activity","titleFontSize":10.5,"titleAngle":90,"titleX":11,"titleY":53,"titleBaseline":"middle","values":[0,100],"format":"d","labelFontSize":13,"labelPadding":-1,"domain":false}},"y2":{"field":"hi"}}},
{"data":{"name":"e"},"width":29,"height":1,"mark":{"type":"rule","opacity":0},"encoding":{}},
{"data":{"name":"hb"},"width":110,"height":98,"encoding":{"x":{"field":"t","type":"ordinal","axis":null},"y":{"field":"s","type":"ordinal","axis":null},"color":{"field":"v","type":"quantitative","legend":null,"scale":{"interpolate":"rgb","domain":[0,8,20,38,50,62,80,92,100],"range":["#000000","#000060","#0000ff","#00ffff","#80ff80","#ffff00","#ff2000","#a00000","#300000"]}}},"layer":[{"mark":"rect"},{"mark":{"type":"rect","clip":true,"xOffset":-1.4,"yOffset":-2.5}},{"mark":{"type":"rect","clip":true,"xOffset":1.4,"yOffset":-2.5,"opacity":0.5}},{"mark":{"type":"rect","clip":true,"xOffset":-1.4,"yOffset":2.5,"opacity":0.33}},{"mark":{"type":"rect","clip":true,"xOffset":1.4,"yOffset":2.5,"opacity":0.25}}]},
{"data":{"name":"e"},"width":5,"height":1,"mark":{"type":"rule","opacity":0},"encoding":{}},
{"data":{"name":"cb"},"width":7,"height":98,"mark":{"type":"rect","fill":{"gradient":"linear","x1":0,"y1":1,"x2":0,"y2":0,"stops":[{"offset":0,"color":"#000000"},{"offset":0.08,"color":"#000060"},{"offset":0.2,"color":"#0000ff"},{"offset":0.38,"color":"#00ffff"},{"offset":0.5,"color":"#80ff80"},{"offset":0.62,"color":"#ffff00"},{"offset":0.8,"color":"#ff2000"},{"offset":0.92,"color":"#a00000"},{"offset":1,"color":"#300000"}]}},"encoding":{"y":{"field":"lo","type":"quantitative","scale":{"domain":[0,112.6]},"axis":{"orient":"right","title":"% Max activity","titleFontSize":10.5,"titleAngle":90,"titleX":11,"titleY":53,"titleBaseline":"middle","values":[0,100],"format":"d","labelFontSize":13,"labelPadding":-1,"domain":false}},"y2":{"field":"hi"}}},
{"data":{"name":"e"},"width":27,"height":1,"mark":{"type":"rule","opacity":0},"encoding":{}},
{"data":{"name":"hc"},"width":110,"height":98,"encoding":{"x":{"field":"t","type":"ordinal","axis":null},"y":{"field":"s","type":"ordinal","axis":null},"color":{"field":"v","type":"quantitative","legend":null,"scale":{"interpolate":"rgb","domain":[0,8,20,38,50,62,80,92,100],"range":["#000000","#000060","#0000ff","#00ffff","#80ff80","#ffff00","#ff2000","#a00000","#300000"]}}},"layer":[{"mark":"rect"},{"mark":{"type":"rect","clip":true,"xOffset":-1.4,"yOffset":-2.5}},{"mark":{"type":"rect","clip":true,"xOffset":1.4,"yOffset":-2.5,"opacity":0.5}},{"mark":{"type":"rect","clip":true,"xOffset":-1.4,"yOffset":2.5,"opacity":0.33}},{"mark":{"type":"rect","clip":true,"xOffset":1.4,"yOffset":2.5,"opacity":0.25}}]},
{"data":{"name":"e"},"width":3,"height":1,"mark":{"type":"rule","opacity":0},"encoding":{}},
{"data":{"name":"cb"},"width":7,"height":98,"mark":{"type":"rect","fill":{"gradient":"linear","x1":0,"y1":1,"x2":0,"y2":0,"stops":[{"offset":0,"color":"#000000"},{"offset":0.08,"color":"#000060"},{"offset":0.2,"color":"#0000ff"},{"offset":0.38,"color":"#00ffff"},{"offset":0.5,"color":"#80ff80"},{"offset":0.62,"color":"#ffff00"},{"offset":0.8,"color":"#ff2000"},{"offset":0.92,"color":"#a00000"},{"offset":1,"color":"#300000"}]}},"encoding":{"y":{"field":"lo","type":"quantitative","scale":{"domain":[0,112.6]},"axis":{"orient":"right","title":"% Max activity","titleFontSize":10.5,"titleAngle":90,"titleX":11,"titleY":53,"titleBaseline":"middle","values":[0,100],"format":"d","labelFontSize":13,"labelPadding":-1,"domain":false}},"y2":{"field":"hi"}}},
{"data":{"name":"e"},"width":29,"height":1,"mark":{"type":"rule","opacity":0},"encoding":{}},
{"data":{"name":"hd"},"width":110,"height":98,"encoding":{"x":{"field":"t","type":"ordinal","axis":null},"y":{"field":"s","type":"ordinal","axis":null},"color":{"field":"v","type":"quantitative","legend":null,"scale":{"interpolate":"rgb","domain":[0,8,20,38,50,62,80,92,100],"range":["#000000","#000060","#0000ff","#00ffff","#80ff80","#ffff00","#ff2000","#a00000","#300000"]}}},"layer":[{"mark":"rect"},{"mark":{"type":"rect","clip":true,"xOffset":-1.4,"yOffset":-2.5}},{"mark":{"type":"rect","clip":true,"xOffset":1.4,"yOffset":-2.5,"opacity":0.5}},{"mark":{"type":"rect","clip":true,"xOffset":-1.4,"yOffset":2.5,"opacity":0.33}},{"mark":{"type":"rect","clip":true,"xOffset":1.4,"yOffset":2.5,"opacity":0.25}}]},
{"data":{"name":"e"},"width":4,"height":1,"mark":{"type":"rule","opacity":0},"encoding":{}},
{"data":{"name":"cb"},"width":7,"height":98,"mark":{"type":"rect","fill":{"gradient":"linear","x1":0,"y1":1,"x2":0,"y2":0,"stops":[{"offset":0,"color":"#000000"},{"offset":0.08,"color":"#000060"},{"offset":0.2,"color":"#0000ff"},{"offset":0.38,"color":"#00ffff"},{"offset":0.5,"color":"#80ff80"},{"offset":0.62,"color":"#ffff00"},{"offset":0.8,"color":"#ff2000"},{"offset":0.92,"color":"#a00000"},{"offset":1,"color":"#300000"}]}},"encoding":{"y":{"field":"lo","type":"quantitative","scale":{"domain":[0,112.6]},"axis":{"orient":"right","title":"% Max activity","titleFontSize":10.5,"titleAngle":90,"titleX":11,"titleY":53,"titleBaseline":"middle","values":[0,100],"format":"d","labelFontSize":13,"labelPadding":-1,"domain":false}},"y2":{"field":"hi"}}}
]},
{"data":{"name":"e"},"width":1,"height":102,"mark":{"type":"rule","opacity":0},"encoding":{}},
{"bounds":"flush","spacing":0,"hconcat":[
{"data":{"name":"e"},"width":118,"height":1,"mark":{"type":"rule","opacity":0},"encoding":{}},
{"data":{"name":"phase"},"width":110,"height":8,"mark":"rect","encoding":{"x":{"field":"a","type":"quantitative","scale":{"domain":[0,100]},"axis":{"title":"% Cycle","titleFontSize":12,"titlePadding":5,"values":[0,100],"format":"d","labelPadding":5,"domain":false}},"x2":{"field":"b"},"color":{"field":"p","type":"nominal","scale":{"domain":["stance","swing"],"range":["#000000","#b9b9b9"]},"legend":null}}},
{"data":{"name":"e"},"width":40,"height":1,"mark":{"type":"rule","opacity":0},"encoding":{}},
{"data":{"name":"phase"},"width":110,"height":8,"mark":"rect","encoding":{"x":{"field":"a","type":"quantitative","scale":{"domain":[0,100]},"axis":null},"x2":{"field":"b"},"color":{"field":"p","type":"nominal","scale":{"domain":["stance","swing"],"range":["#000000","#b9b9b9"]},"legend":null}}},
{"data":{"name":"e"},"width":39,"height":1,"mark":{"type":"rule","opacity":0},"encoding":{}},
{"data":{"name":"phase"},"width":110,"height":8,"mark":"rect","encoding":{"x":{"field":"a","type":"quantitative","scale":{"domain":[0,100]},"axis":null},"x2":{"field":"b"},"color":{"field":"p","type":"nominal","scale":{"domain":["stance","swing"],"range":["#000000","#b9b9b9"]},"legend":null}}},
{"data":{"name":"e"},"width":39,"height":1,"mark":{"type":"rule","opacity":0},"encoding":{}},
{"data":{"name":"phase"},"width":110,"height":8,"mark":"rect","encoding":{"x":{"field":"a","type":"quantitative","scale":{"domain":[0,100]},"axis":null},"x2":{"field":"b"},"color":{"field":"p","type":"nominal","scale":{"domain":["stance","swing"],"range":["#000000","#b9b9b9"]},"legend":null}}}
]}
]}
